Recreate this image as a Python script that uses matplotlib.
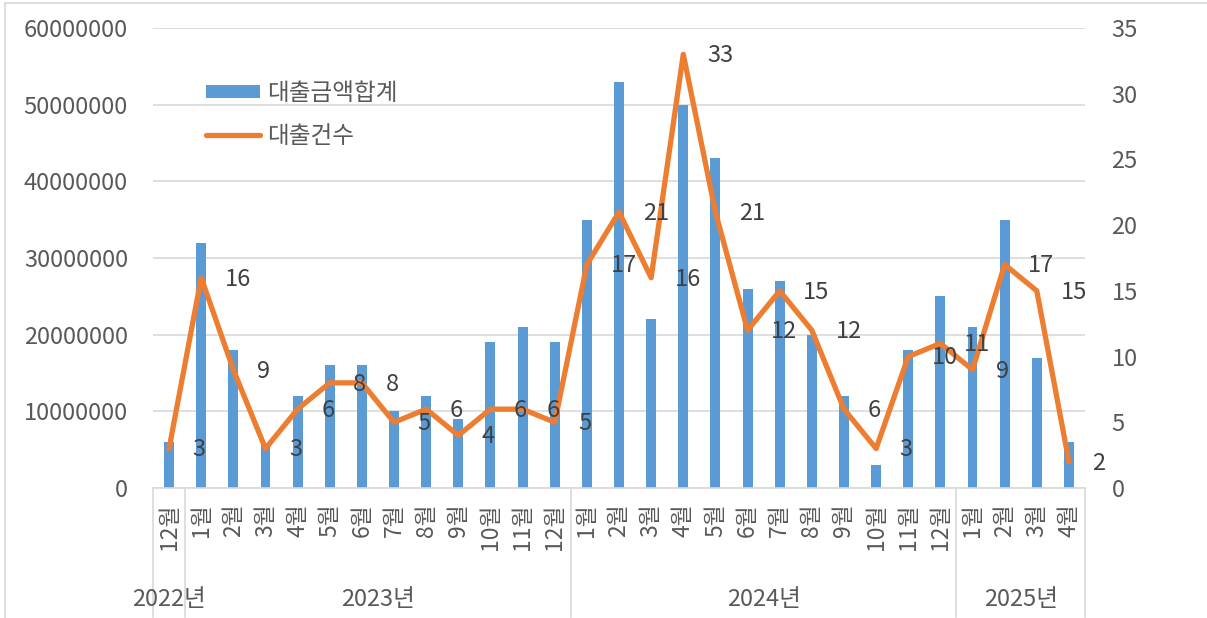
import matplotlib
matplotlib.use('Agg')
import matplotlib.pyplot as plt
from matplotlib.lines import Line2D
import numpy as np

plt.rcParams['font.family'] = ['Noto Sans CJK KR', 'DejaVu Sans']

# data
years = ['2022년', '2023년', '2024년', '2025년']
year_counts = [1, 12, 12, 4]
months = ['12월'] + ['%d월' % m for m in range(1, 13)] * 2 + ['%d월' % m for m in range(1, 5)]
amounts = [6000000,
           32000000, 18000000, 5800000, 12000000, 16000000, 16000000,
           10000000, 12000000, 9000000, 19000000, 21000000, 19000000,
           35000000, 53000000, 22000000, 50000000, 43000000, 26000000,
           27000000, 20000000, 12000000, 3000000, 18000000, 25000000,
           21000000, 35000000, 17000000, 6000000]
counts = [3,
          16, 9, 3, 6, 8, 8, 5, 6, 4, 6, 6, 5,
          17, 21, 16, 33, 21, 12, 15, 12, 6, 3, 10, 11,
          9, 17, 15, 2]

BLUE = '#5B9BD5'
ORANGE = '#ED7D31'
GRID = '#D9D9D9'
TXT = '#595959'
FS = 17

W, H = 1207, 618
fig = plt.figure(figsize=(W / 100, H / 100), dpi=100)
ax = fig.add_axes([153 / W, 1 - 488 / H, (1085 - 153) / W, (488 - 28) / H])
ax2 = ax.twinx()

x = np.arange(len(amounts))
bars = ax.bar(x, amounts, width=0.31, color=BLUE, zorder=2, label='대출금액합계')
ax.set_xlim(-0.5, len(amounts) - 0.5)
ax.set_ylim(0, 60000000)
ax.set_yticks(np.arange(0, 60000001, 10000000))
ax.set_yticklabels(['%d' % v for v in np.arange(0, 60000001, 10000000)])
ax.yaxis.grid(True, color=GRID, linewidth=1.2, zorder=0)
ax.set_axisbelow(True)
for s in ['top', 'left', 'right']:
    ax.spines[s].set_visible(False)
ax.spines['bottom'].set_color(GRID)
ax.spines['bottom'].set_linewidth(1.2)
ax.tick_params(axis='y', length=0, pad=18, labelsize=FS, labelcolor=TXT)
ax.set_xticks(x)
ax.set_xticklabels(months, rotation=90, va='top', ha='center')
ax.tick_params(axis='x', length=0, pad=11, labelsize=FS - 0.5, labelcolor=TXT)

line, = ax2.plot(x, counts, color=ORANGE, linewidth=3.8, solid_joinstyle='round',
                 solid_capstyle='round', zorder=3, label='대출건수')
ax2.set_ylim(0, 35)
ax2.set_yticks(np.arange(0, 36, 5))
for s in ['top', 'left', 'right', 'bottom']:
    ax2.spines[s].set_visible(False)
ax2.tick_params(axis='y', length=0, pad=19, labelsize=FS, labelcolor=TXT)

for xi, c in zip(x, counts):
    ax2.annotate(str(c), (xi, c), xytext=(17, -1), textcoords='offset points',
                 ha='left', va='center', fontsize=FS, color='#404040', zorder=4)

# multi-level category axis
tr = ax.get_xaxis_transform()
bounds = [-0.5]
for n in year_counts:
    bounds.append(bounds[-1] + n)
for b in bounds:
    ax.plot([b, b], [0, -129 / 460], transform=tr, color=GRID, linewidth=1.2, clip_on=False)
for i, yname in enumerate(years):
    cx = (bounds[i] + bounds[i + 1]) / 2
    ax.text(cx, -112 / 460, yname, transform=tr, ha='center', va='center',
            fontsize=FS, color=TXT)

# chart border
fig.add_artist(Line2D([5 / W, 5 / W], [0, 1 - 3 / H], color=GRID, linewidth=1.2))
fig.add_artist(Line2D([5 / W, 1], [1 - 3 / H, 1 - 3 / H], color=GRID, linewidth=1.2))

leg = ax2.legend([bars, line], ['대출금액합계', '대출건수'], loc='upper left',
                 bbox_to_anchor=(194 / W, 1 - 70 / H), bbox_transform=fig.transFigure,
                 frameon=False, fontsize=FS, handlelength=2.3, handleheight=0.5,
                 handletextpad=0.3, labelspacing=0.85, borderpad=0)
for t in leg.get_texts():
    t.set_color(TXT)

fig.savefig('out.png', dpi=100)
